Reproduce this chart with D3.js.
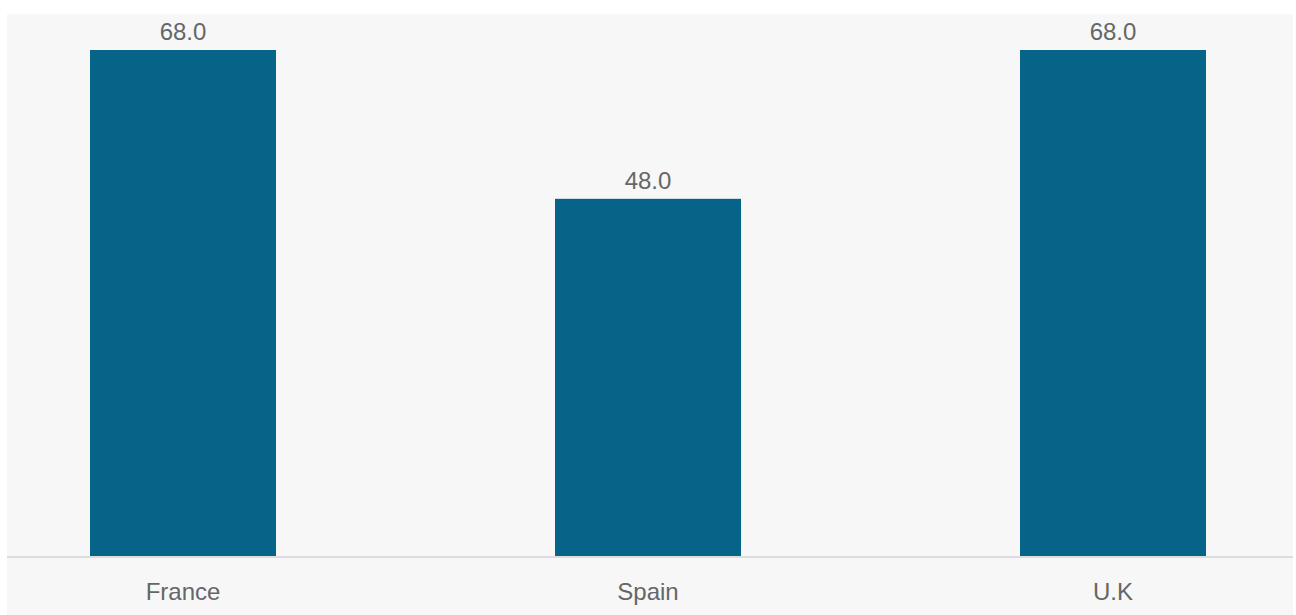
<!DOCTYPE html>
<html>
<head>
<meta charset="utf-8">
<script src="https://cdn.jsdelivr.net/npm/d3@7"></script>
<style>
  body { margin: 0; background: #fff; }
  svg { display: block; }
</style>
</head>
<body>
<svg width="1296" height="615"></svg>
<script>
var countries = ["France", "Spain", "U.K"];
var values = [68.0, 48.0, 68.0];

var svg = d3.select("svg");
var panelLeft = 7, panelRight = 1293, panelTop = 14, baseY = 556;

// panel background
svg.append("rect")
    .attr("x", panelLeft)
    .attr("y", panelTop)
    .attr("width", panelRight - panelLeft)
    .attr("height", 615 - panelTop)
    .style("fill", "#f7f7f7");

var x = d3.scaleBand()
    .domain(countries)
    .range([panelLeft, 1289])
    .paddingInner(0.6)
    .paddingOuter(0.1785);

var y = d3.scaleLinear()
    .domain([0, 68])
    .range([baseY, 50]);

svg.selectAll("rect.bar")
    .data(values)
    .enter().append("rect")
    .attr("class", "bar")
    .attr("x", function(d, i){
        return x(countries[i]);
    })
    .attr("y", function(d){
        return y(d);
    })
    .attr("width", x.bandwidth())
    .attr("height", function(d){
        return y(0) - y(d);
    })
    .style("fill", "#066489");

svg.selectAll("text.val")
    .data(values)
    .enter().append("text")
    .attr("class", "val")
    .attr("x", function(d, i){
        return x(countries[i]) + x.bandwidth() / 2;
    })
    .attr("y", function(d){
        return y(d) - 10;
    })
    .attr("text-anchor", "middle")
    .style("font-family", "'Liberation Sans', Arial, sans-serif")
    .style("font-size", "24px")
    .style("fill", "#666")
    .text(function(d){
        return d.toFixed(1);
    });

// baseline
svg.append("line")
    .attr("x1", panelLeft)
    .attr("x2", panelRight)
    .attr("y1", baseY + 1)
    .attr("y2", baseY + 1)
    .style("stroke", "#dcdcdc")
    .style("stroke-width", 2);

var xAxis = svg.append("g")
    .attr("transform", "translate(0," + (baseY + 1) + ")")
    .call(d3.axisBottom(x).tickSize(0).tickPadding(0));
xAxis.select(".domain").remove();
xAxis.selectAll("text")
    .attr("y", 43)
    .attr("dy", 0)
    .style("font-family", "'Liberation Sans', Arial, sans-serif")
    .style("font-size", "24px")
    .style("fill", "#666");
</script>
</body>
</html>
